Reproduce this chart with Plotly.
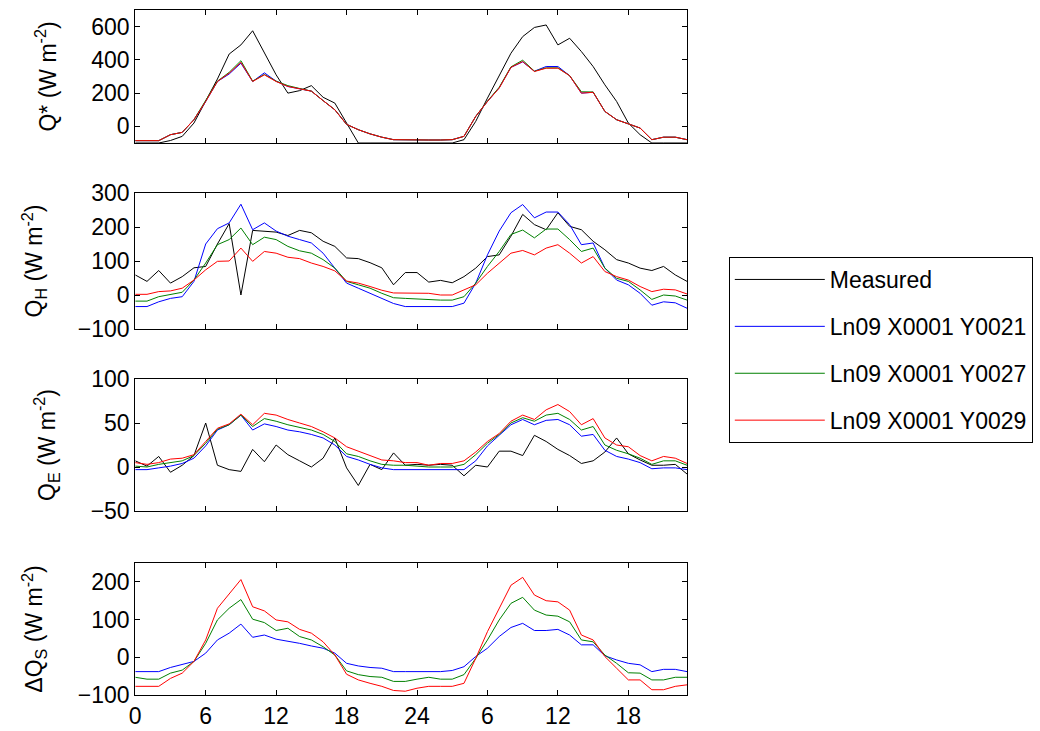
import plotly.graph_objects as go

hours = list(range(48))
xtick_vals = [0, 6, 12, 18, 24, 30, 36, 42]
xtick_text = ["0", "6", "12", "18", "24", "6", "12", "18"]

series_names = ["Measured", "Ln09 X0001 Y0021", "Ln09 X0001 Y0027", "Ln09 X0001 Y0029"]
series_colors = ["#000000", "#0000FF", "#008000", "#FF0000"]

# Q* (net all-wave radiation)
qstar_meas = [-100, -100, -100, -85, -60, 20, 150, 285, 435, 490, 575, 440, 310, 200, 215, 245, 175, 140, 20, -100,
              -100, -100, -100, -100, -100, -100, -100, -100, -80, 30, 170, 310, 440, 540, 595, 610, 490, 530, 450, 360,
              250, 150, 20, -50, -100, -100, -100, -100]
qstar_y21 = [-86, -86, -86, -50, -36, 40, 150, 270, 315, 380, 270, 322, 272, 240, 225, 212, 155, 100, 12, -20,
             -45, -65, -80, -82, -82, -82, -82, -80, -60, 60, 150, 232, 355, 388, 332, 360, 360, 305, 200, 205,
             90, 40, 15, -10, -80, -65, -65, -80]
qstar_y27 = [-86, -86, -86, -50, -36, 40, 152, 272, 325, 395, 272, 312, 272, 245, 228, 212, 155, 100, 12, -20,
             -45, -65, -80, -82, -82, -82, -82, -80, -60, 60, 152, 235, 358, 398, 332, 352, 352, 305, 208, 207,
             90, 40, 15, -10, -80, -65, -65, -80]
qstar_y29 = [-86, -86, -86, -50, -36, 40, 150, 270, 320, 385, 270, 310, 270, 240, 225, 212, 155, 100, 12, -20,
             -45, -65, -80, -82, -82, -82, -82, -80, -60, 60, 150, 230, 355, 390, 330, 350, 350, 305, 200, 205,
             90, 40, 15, -10, -80, -65, -65, -80]

# Q_H (sensible heat flux)
qh_meas = [59, 40, 72, 35, 54, 80, 84, 150, 210, 0, 190, 187, 185, 175, 190, 183, 158, 143, 109, 107,
           95, 80, 30, 66, 66, 38, 43, 36, 54, 79, 113, 118, 173, 237, 207, 192, 242, 202, 192, 158,
           133, 104, 94, 79, 72, 84, 59, 40]
qh_y21 = [-34, -34, -20, -10, -5, 40, 150, 195, 212, 267, 192, 212, 188, 173, 163, 153, 123, 79, 35, 20,
          5, -10, -25, -34, -34, -32, -34, -34, -24, 35, 118, 188, 242, 266, 227, 244, 244, 207, 148, 153,
          79, 44, 30, 5, -30, -20, -23, -39]
qh_y27 = [-18, -18, -5, 2, 8, 44, 94, 148, 163, 197, 148, 170, 163, 143, 130, 123, 104, 79, 40, 30,
          20, 5, -8, -10, -12, -13, -15, -15, -5, 35, 84, 128, 178, 191, 168, 194, 194, 163, 128, 138,
          79, 49, 40, 15, -13, 0, -3, -15]
qh_y29 = [2, 2, 10, 12, 20, 44, 74, 99, 100, 138, 99, 128, 123, 111, 107, 94, 84, 71, 41, 35,
          25, 14, 6, 5, 5, 5, 0, 0, 15, 30, 64, 94, 123, 131, 118, 138, 148, 123, 94, 113,
          69, 54, 44, 25, 10, 17, 15, 3]

# Q_E (latent heat flux)
qe_meas = [7, 1, 12, -6, 2, 13, 50, 2, -3, -5, 20, 6, 25, 14, 7, 0, 10, 33, -1, -21,
           3, -3, 16, 2, 3, 2, 3, 2, -10, 2, 0, 18, 18, 13, 36, 29, 20, 13, 4, 7,
           17, 33, 15, 8, 2, 2, 3, -8]
qe_y21 = [-3, -3, -1, 1, 4, 10, 24, 42, 48, 59, 42, 49, 46, 42, 40, 37, 33, 25, 12, 8,
          3, -1, -3, -3, -3, -3, -3, -3, -3, 7, 24, 36, 48, 54, 48, 53, 54, 48, 35, 37,
          19, 12, 9, 5, -2, -1, -1, -3]
qe_y27 = [1, 0, 3, 5, 7, 13, 27, 43, 48, 59, 46, 55, 52, 48, 45, 42, 37, 29, 15, 12,
          7, 3, 2, 2, 1, 0, 0, 0, 3, 14, 27, 37, 50, 56, 52, 59, 61, 54, 42, 46,
          25, 19, 15, 10, 3, 7, 7, 2]
qe_y29 = [5, 3, 5, 9, 10, 14, 29, 44, 49, 60, 48, 61, 59, 54, 50, 46, 40, 33, 23, 18,
          13, 8, 7, 5, 5, 2, 4, 4, 7, 17, 29, 38, 52, 59, 54, 65, 71, 63, 48, 55,
          33, 25, 23, 13, 7, 12, 10, 4]

# Delta Q_S (storage heat flux), models only
dqs_y21 = [-38, -38, -38, -27, -20, -11, 11, 46, 64, 88, 53, 59, 48, 43, 37, 30, 24, 11, -16, -23,
           -27, -29, -38, -38, -38, -38, -38, -35, -25, 2, 24, 55, 79, 90, 71, 71, 74, 59, 33, 33,
           4, -7, -16, -20, -38, -32, -32, -38]
dqs_y27 = [-53, -58, -58, -42, -34, -11, 37, 99, 130, 153, 101, 92, 71, 77, 55, 46, 28, 6, -36, -46,
           -51, -53, -64, -64, -58, -53, -58, -58, -46, -3, 46, 99, 143, 159, 125, 112, 109, 94, 46, 41,
           6, -16, -41, -42, -60, -60, -53, -53]
dqs_y29 = [-77, -77, -77, -56, -42, -11, 46, 130, 169, 206, 134, 123, 99, 94, 74, 64, 41, 6, -45, -60,
           -69, -77, -88, -90, -82, -77, -77, -77, -69, -3, 68, 130, 191, 212, 165, 150, 147, 125, 59, 46,
           2, -29, -60, -60, -86, -86, -77, -73]

panels = [
    {"series": [qstar_meas, qstar_y21, qstar_y27, qstar_y29], "title": "Q* (W m<sup>-2</sup>)",
     "range": [-100, 700], "ticks": [0, 200, 400, 600]},
    {"series": [qh_meas, qh_y21, qh_y27, qh_y29], "title": "Q<sub>H</sub> (W m<sup>-2</sup>)",
     "range": [-100, 300], "ticks": [-100, 0, 100, 200, 300]},
    {"series": [qe_meas, qe_y21, qe_y27, qe_y29], "title": "Q<sub>E</sub> (W m<sup>-2</sup>)",
     "range": [-50, 100], "ticks": [-50, 0, 50, 100]},
    {"series": [None, dqs_y21, dqs_y27, dqs_y29], "title": "ΔQ<sub>S</sub> (W m<sup>-2</sup>)",
     "range": [-100, 250], "ticks": [-100, 0, 100, 200]},
]

W, H = 1040, 731
x_dom = [130 / W, 685 / W]
y_px = [(10, 143), (193, 329), (379, 511), (563, 695)]
FONT = "Liberation Sans, Arial, sans-serif"
FS = 23

fig = go.Figure()
layout = {}
for i, p in enumerate(panels):
    n = i + 1
    xa = "x" if n == 1 else f"x{n}"
    ya = "y" if n == 1 else f"y{n}"
    for j, vals in enumerate(p["series"]):
        if vals is None:
            continue
        fig.add_trace(go.Scatter(
            x=hours, y=vals, mode="lines", name=series_names[j],
            line=dict(color=series_colors[j], width=1),
            legendgroup=series_names[j], showlegend=(n == 1),
            xaxis=xa, yaxis=ya,
        ))
    top, bot = y_px[i]
    xkey = "xaxis" if n == 1 else f"xaxis{n}"
    ykey = "yaxis" if n == 1 else f"yaxis{n}"
    layout[xkey] = dict(
        domain=x_dom, anchor=ya, range=[0, 47], tickmode="array",
        tickvals=xtick_vals, ticktext=xtick_text, showticklabels=(n == 4),
        ticks="inside", ticklen=5, tickcolor="black", showline=True, linecolor="black",
        linewidth=1, mirror="ticks", showgrid=False, zeroline=False,
        tickfont=dict(family=FONT, size=FS, color="black"),
    )
    if n != 1:
        layout[xkey]["matches"] = "x"
    layout[ykey] = dict(
        domain=[1 - bot / H, 1 - top / H], anchor=xa, range=p["range"], tickmode="array",
        tickvals=p["ticks"], ticks="inside", ticklen=5, tickcolor="black", showline=True,
        linecolor="black", linewidth=1, mirror="ticks", showgrid=False, zeroline=False,
        tickfont=dict(family=FONT, size=FS, color="black"),
        title=dict(text=p["title"], font=dict(family=FONT, size=FS, color="black"), standoff=28),
        automargin=False,
    )

fig.update_layout(
    width=W, height=H,
    margin=dict(l=0, r=0, t=0, b=0),
    paper_bgcolor="white", plot_bgcolor="white",
    showlegend=True,
    legend=dict(
        x=727 / W, y=1 - 257 / H, xanchor="left", yanchor="top",
        bgcolor="white", bordercolor="black", borderwidth=1,
        font=dict(family=FONT, size=FS, color="black"),
        tracegroupgap=14, itemwidth=90,
    ),
    **layout,
)

fig.write_html("out.html", config={"displayModeBar": False},
               post_script="document.body.style.margin='0';")
